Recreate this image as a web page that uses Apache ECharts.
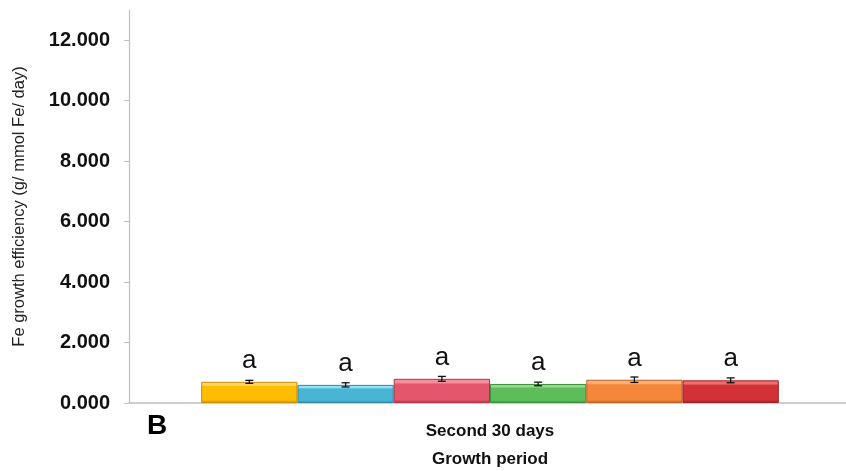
<!DOCTYPE html>
<html>
<head>
<meta charset="utf-8">
<script src="https://cdn.jsdelivr.net/npm/echarts@6/dist/echarts.min.js"></script>
<style>
  html, body { margin: 0; padding: 0; background: #fff; overflow: hidden; }
  #chart { width: 846px; height: 471px; }
</style>
</head>
<body>
<div id="chart"></div>
<script>
// Growth period category and one bar per treatment
const categories = ['Second 30 days'];
const treatments = ['T1', 'T2', 'T3', 'T4', 'T5', 'T6'];
const means = [0.70, 0.60, 0.80, 0.63, 0.77, 0.75];
const errors = [0.05, 0.07, 0.08, 0.06, 0.09, 0.08];
const letters = ['a', 'a', 'a', 'a', 'a', 'a'];
const yTicks = { min: 0, max: 13, interval: 2 };

// bevel-like palette: [highlight, body, shade]
const palette = [
  ['#FFD866', '#FFBC00', '#C98F00'],
  ['#8EE2F4', '#4AB4D4', '#2E8AA8'],
  ['#F3909C', '#E4566B', '#B03445'],
  ['#96DA8C', '#5CBD5A', '#3A8F3A'],
  ['#FAB07A', '#F5863A', '#C0611F'],
  ['#EA7070', '#D23237', '#9E2025']
];

function fill(c) {
  return new echarts.graphic.LinearGradient(0, 0, 0, 1, [
    { offset: 0, color: c[0] },
    { offset: 0.16, color: c[0] },
    { offset: 0.22, color: c[1] },
    { offset: 0.86, color: c[1] },
    { offset: 1, color: c[2] }
  ]);
}

const series = [];
treatments.forEach((name, i) => {
  series.push({
    name: name,
    type: 'bar',
    data: [means[i]],
    barGap: '0%',
    barCategoryGap: '20%',
    itemStyle: { color: fill(palette[i]), borderColor: palette[i][2], borderWidth: 1 },
    label: {
      show: true,
      position: 'top',
      distance: 8,
      formatter: () => letters[i],
      fontSize: 26,
      fontFamily: 'Liberation Sans',
      color: '#111'
    },
    z: 2
  });
});

// error bars drawn over each bar
series.push({
  type: 'custom',
  z: 5,
  data: treatments.map((_, i) => [i, means[i], errors[i]]),
  renderItem: function (params, api) {
    const i = api.value(0);
    const m = api.value(1);
    const e = api.value(2);
    const band = api.size([1, 0])[0];
    const groupW = band * 0.8;
    const barW = groupW / treatments.length;
    const base = api.coord([0, m]);
    const x = base[0] - groupW / 2 + barW * (i + 0.5);
    const yHi = api.coord([0, m + e])[1];
    const yLo = api.coord([0, m - e])[1];
    const cap = 4;
    const st = { stroke: '#111', lineWidth: 1.3 };
    return {
      type: 'group',
      children: [
        { type: 'line', shape: { x1: x, y1: yHi, x2: x, y2: yLo }, style: st },
        { type: 'line', shape: { x1: x - cap, y1: yHi, x2: x + cap, y2: yHi }, style: st },
        { type: 'line', shape: { x1: x - cap, y1: yLo, x2: x + cap, y2: yLo }, style: st }
      ]
    };
  }
});

const chart = echarts.init(document.getElementById('chart'), null, { renderer: 'canvas' });
chart.setOption({
  animation: false,
  backgroundColor: '#fff',
  grid: { left: 129, right: -5, top: 10, bottom: 68, containLabel: false, outerBoundsMode: 'none' },
  xAxis: {
    type: 'category',
    data: categories,
    axisLine: { lineStyle: { color: '#BFBFBF', width: 1.5 } },
    axisTick: { show: false },
    axisLabel: {
      margin: 20,
      fontSize: 17,
      fontWeight: 'bold',
      fontFamily: 'Liberation Sans',
      color: '#111'
    },
    name: 'Growth period',
    nameLocation: 'middle',
    nameGap: 48,
    nameTextStyle: { fontSize: 17, fontWeight: 'bold', fontFamily: 'Liberation Sans', color: '#111' }
  },
  yAxis: {
    type: 'value',
    min: yTicks.min,
    max: yTicks.max,
    interval: yTicks.interval,
    splitLine: { show: false },
    axisLine: { show: true, lineStyle: { color: '#BFBFBF', width: 1.2 } },
    axisTick: { show: true, length: 5, lineStyle: { color: '#BFBFBF' } },
    axisLabel: {
      showMaxLabel: false,
      margin: 19,
      fontSize: 20,
      fontWeight: 'bold',
      fontFamily: 'Liberation Sans',
      color: '#111',
      formatter: v => v.toFixed(3)
    },
    name: 'Fe growth efficiency (g/ mmol Fe/ day)',
    nameLocation: 'middle',
    nameGap: 101,
    nameTextStyle: { fontSize: 16.5, fontFamily: 'Liberation Sans', color: '#222' }
  },
  graphic: [
    {
      type: 'text',
      left: 147,
      top: 412,
      style: { text: 'B', fontSize: 28, fontWeight: 'bold', fontFamily: 'Liberation Sans', fill: '#000' }
    }
  ],
  series: series
});
</script>
</body>
</html>
